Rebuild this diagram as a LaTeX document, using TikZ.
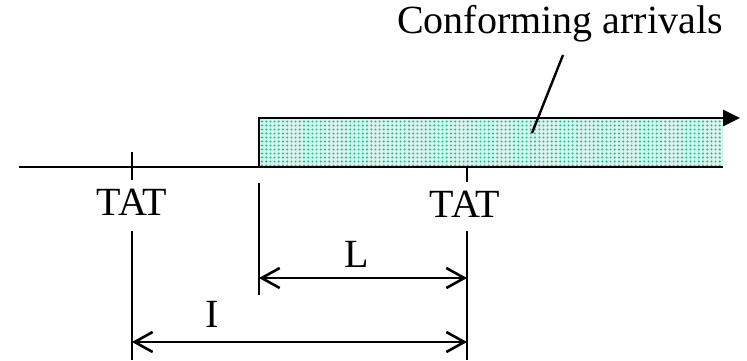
\documentclass[tikz,border=0pt]{standalone}
\usepackage{fontspec}
\setmainfont{Liberation Serif}
\usetikzlibrary{arrows.meta}
\definecolor{dotfill}{RGB}{215,245,236}
\definecolor{dotcol}{RGB}{10,195,150}
\tikzset{
  lbl/.style={font=\fontsize{40}{42}\selectfont, inner sep=0pt, anchor=base},
  ln/.style={line width=2.8pt},
  dim/.style={line width=2.6pt, {Straight Barb[length=18pt,width=20pt,line width=2.6pt]}-{Straight Barb[length=18pt,width=20pt,line width=2.6pt]}},
}
\begin{document}
\begin{tikzpicture}[x=1pt,y=-1pt]
\useasboundingbox (0,0) rectangle (747,360);
% fill with dots
\fill[dotfill] (259,118) rectangle (723,167);
\begin{scope}
\clip (260,119) rectangle (723,166);
\foreach \i in {0,...,111} {
  \foreach \j in {0,...,11} {
    \fill[dotcol] ({262+\i*4.2},{121.5+\j*4}) circle (1.1pt);
  }
}
\end{scope}
% coordinates
\coordinate (b0) at (19,167);
\coordinate (s0) at (259,167);
\coordinate (s1) at (259,118);
\coordinate (e1) at (740,118);
\coordinate (e0) at (723,167);
\draw[ln] (b0) -- (s0) -- (s1) -- (724,118);
\draw[ln, -{Triangle[length=17pt,width=16pt]}] (s1) -- (e1);
\draw[ln] (s0) -- (e0);
% labels
\node[lbl] (tat1) at (132,215) {TAT};
\node[lbl] (tat2) at (465,217) {TAT};
\node[lbl] (L) at (357,267) {L};
\node[lbl] (I) at (212,327) {I};
\node[lbl] (conf) at (560,33) {Conforming arrivals};
% ticks and extension lines
\draw[ln] (132,152) -- (132,180);
\draw[ln] (467,167) -- (467,182);
\coordinate (la) at (132,231);
\coordinate (lb) at (132,360);
\coordinate (ma) at (259,183);
\coordinate (mb) at (259,295);
\coordinate (ra) at (467,231);
\coordinate (rb) at (467,360);
\draw[ln] (la) -- (lb);
\draw[ln] (ma) -- (mb);
\draw[ln] (ra) -- (rb);
\coordinate (L1) at (259,278);
\coordinate (L2) at (467,278);
\draw[dim] (L1) -- (L2);
\coordinate (I1) at (132,342);
\coordinate (I2) at (467,342);
\draw[dim] (I1) -- (I2);
% leader
\coordinate (p1) at (563,55);
\coordinate (p2) at (532,133);
\draw[line width=2.4pt] (p1) -- (p2);
\end{tikzpicture}
\end{document}
